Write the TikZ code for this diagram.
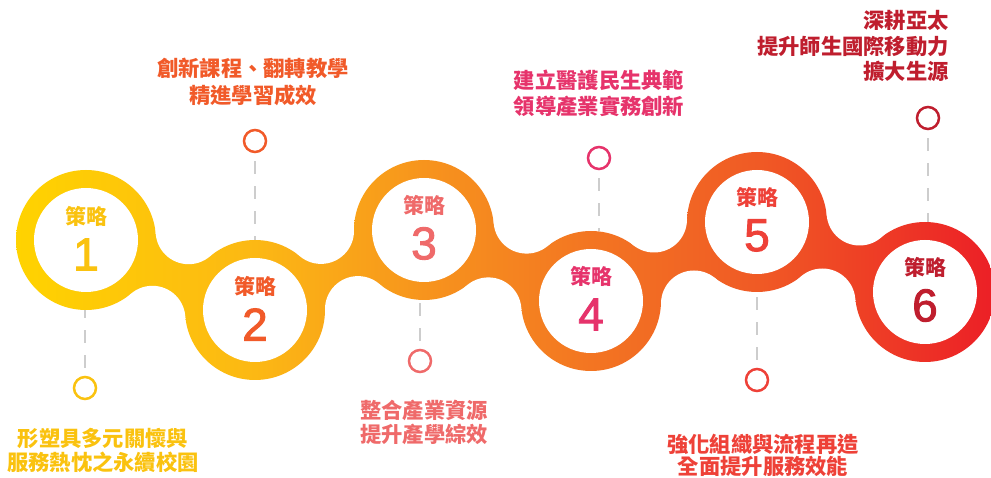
\documentclass[tikz,border=0pt]{standalone}
\usepackage{fontspec}
\newfontfamily\cjk{Noto Sans CJK TC}
\newfontfamily\numfont{Liberation Sans}[FakeBold=2]
\definecolor{k1}{HTML}{FAC20F}
\definecolor{k2}{HTML}{F15A29}
\definecolor{k3}{HTML}{EF6A6A}
\definecolor{k4}{HTML}{E6336B}
\definecolor{k5}{HTML}{EE4138}
\definecolor{k6}{HTML}{BF1E2E}
\definecolor{dashgray}{HTML}{CDCDCD}
\definecolor{g0}{HTML}{FFD300}
\definecolor{g1}{HTML}{FCB814}
\definecolor{g2}{HTML}{F7941D}
\definecolor{g3}{HTML}{F37522}
\definecolor{g4}{HTML}{F05A25}
\definecolor{g5}{HTML}{EC2026}
\pgfdeclarehorizontalshading{band}{100bp}{color(0bp)=(g0); color(25.8bp)=(g0); color(37.9bp)=(g1); color(46.4bp)=(g2); color(54.8bp)=(g3); color(63.2bp)=(g4); color(75bp)=(g5); color(100bp)=(g5)}
\begin{document}
\begin{tikzpicture}[x=1pt,y=-1pt,
  dashline/.style={draw=dashgray, line width=2.5pt, dash pattern=on 12.5pt off 12.5pt, shorten <=8pt},
  smalldot/.style={circle, draw, line width=2.5pt, minimum size=22pt, inner sep=0pt, fill=white},
  labtxt/.style={font=\cjk\bfseries\fontsize{21.3}{24}\selectfont, align=center, inner sep=0pt},
  celab/.style={font=\cjk\bfseries\fontsize{21}{21}\selectfont, inner sep=0pt},
  numtxt/.style={font=\numfont\fontsize{46}{46}\selectfont, inner sep=0pt},
  ringnode/.style={circle, minimum size=140pt, inner sep=0pt, outer sep=0pt}]
\useasboundingbox (0,0) rectangle (991,478);
\clip (0,0) rectangle (991,478);
% ring centres
\coordinate (c1) at (86,240);
\coordinate (c2) at (255,310);
\coordinate (c3) at (424,230);
\coordinate (c4) at (591,301);
\coordinate (c5) at (757,222);
\coordinate (c6) at (925,292);
\foreach \i in {1,...,6}{\node[ringnode] (ring\i) at (c\i) {};}
% fillet centres
\coordinate (t12) at (188.6,231.2); \coordinate (b12) at (152.4,318.8);
\coordinate (t23) at (321.0,230.9); \coordinate (b23) at (358.0,309.1);
\coordinate (t34) at (526.6,220.6); \coordinate (b34) at (488.4,310.4);
\coordinate (t45) at (654.0,219.5); \coordinate (b45) at (694.0,303.5);
\coordinate (t56) at (859.6,212.5); \coordinate (b56) at (822.4,301.5);
% small circles
\node[smalldot, draw=k1] (d1) at (85,388) {};
\node[smalldot, draw=k2] (d2) at (255,141) {};
\node[smalldot, draw=k3] (d3) at (420,361) {};
\node[smalldot, draw=k4] (d4) at (599,158) {};
\node[smalldot, draw=k5] (d5) at (757,380) {};
\node[smalldot, draw=k6] (d6) at (928,118) {};
% dashed connectors
\draw[dashline] (d1.north) -- (d1.north |- ring1.south);
\draw[dashline] (d2.south) -- (d2.south |- ring2.north);
\draw[dashline] (d3.north) -- (d3.north |- ring3.south);
\draw[dashline] (d4.south) -- (d4.south |- ring4.north);
\draw[dashline] (d5.north) -- (d5.north |- ring5.south);
\draw[dashline] (d6.south) -- (d6.south |- ring6.north);
% band
\foreach \i in {1,...,6}{\begin{scope}\clip (c\i) circle[radius=70pt]; \shade[shading=band] (0,0) rectangle (991,478);\end{scope}}
\foreach \a/\b in {1/2,2/3,3/4,4/5,5/6}{\begin{scope}\clip (c\a) -- (t\a\b) -- (c\b) -- (b\a\b) -- cycle; \shade[shading=band] (0,0) rectangle (991,478);\end{scope}}
\foreach \a/\b in {1/2,2/3,3/4,4/5,5/6}{\fill[white] (t\a\b) circle[radius=33pt]; \fill[white] (b\a\b) circle[radius=33pt];}
\foreach \i in {1,...,6}{\fill[white] (c\i) circle[radius=52pt];}
% ring texts
\node[celab, text=k1] (s1) at (86,216) {策略};
\node[numtxt, text=k1] (n1) at (86,254.5) {1};
\node[celab, text=k2] (s2) at (255,286) {策略};
\node[numtxt, text=k2] (n2) at (255,324.5) {2};
\node[celab, text=k3] (s3) at (424,205) {策略};
\node[numtxt, text=k3] (n3) at (424,243.5) {3};
\node[celab, text=k4] (s4) at (591,276) {策略};
\node[numtxt, text=k4] (n4) at (591,314.5) {4};
\node[celab, text=k5] (s5) at (757,197) {策略};
\node[numtxt, text=k5] (n5) at (757,235.5) {5};
\node[celab, text=k6] (s6) at (925,267) {策略};
\node[numtxt, text=k6] (n6) at (925,305.5) {6};
% labels
\node[labtxt, text=k1] (l1) at (103,450) {形塑具多元關懷與\\服務熱忱之永續校園};
\node[labtxt, text=k2, font=\cjk\bfseries\fontsize{21.3}{27}\selectfont] (l2) at (253,82) {創新課程、翻轉教學\\精進學習成效};
\node[labtxt, text=k3] (l3) at (424,422) {整合產業資源\\提升產學綜效};
\node[labtxt, text=k4, font=\cjk\bfseries\fontsize{21.3}{26}\selectfont] (l4) at (599,93) {建立醫護民生典範\\領導產業實務創新};
\node[labtxt, text=k5, font=\cjk\bfseries\fontsize{21.3}{22}\selectfont] (l5) at (763,455) {強化組織與流程再造\\全面提升服務效能};
\node[labtxt, text=k6, align=right, anchor=east, font=\cjk\bfseries\fontsize{21.3}{25.5}\selectfont] (l6) at (949,46) {深耕亞太\\提升師生國際移動力\\擴大生源};
\end{tikzpicture}
\end{document}
